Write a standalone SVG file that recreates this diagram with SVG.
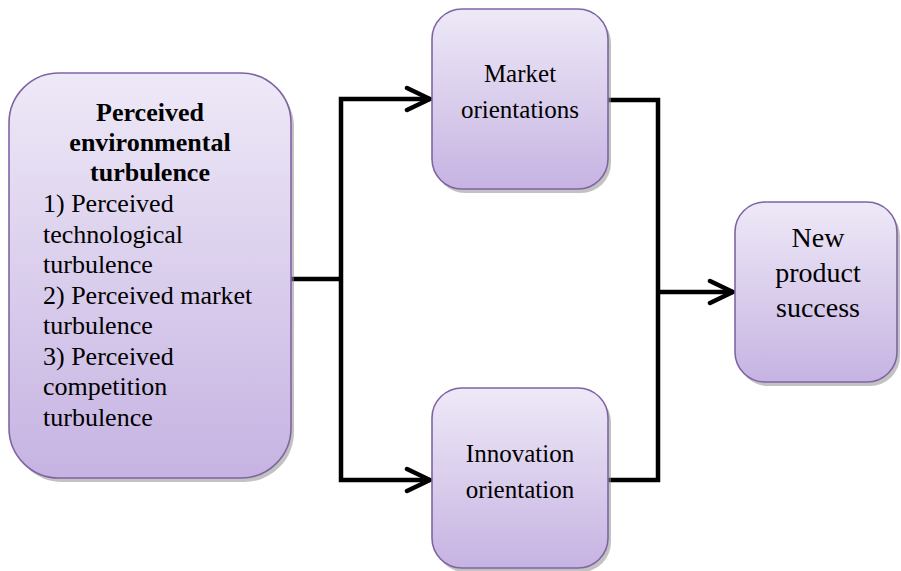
<svg xmlns="http://www.w3.org/2000/svg" width="901" height="571" viewBox="0 0 901 571">
  <defs>
    <linearGradient id="boxFill" x1="0" y1="0" x2="0" y2="1">
      <stop offset="0" stop-color="#eee9f7"/>
      <stop offset="1" stop-color="#c6b3e2"/>
    </linearGradient>
    <marker id="chevron" markerUnits="userSpaceOnUse" viewBox="-30 -15 34 30" markerWidth="34" markerHeight="30" refX="0" refY="0" orient="auto">
      <path d="M-23,-11 L0,0 L-23,11" fill="none" stroke="#000" stroke-width="4.5" stroke-linecap="round" stroke-linejoin="miter"/>
    </marker>
  </defs>
  <style>
    .shadow { fill: #8f8f8f; opacity: 0.55; }
    .box { fill: url(#boxFill); stroke: #8064a2; stroke-width: 1.6; }
    .t { font-family: "Liberation Serif", Tinos, "Times New Roman", Times, "DejaVu Serif", serif; fill: #000; }
    .wire { fill: none; stroke: #000; stroke-width: 4.5; stroke-linejoin: miter; }
  </style>
  <rect width="901" height="571" fill="#fff"/>

  <g id="connectors">
    <path class="wire" d="M291,279 H341"/>
    <path class="wire" d="M341,279 V99 H430" marker-end="url(#chevron)"/>
    <path class="wire" d="M341,279 V480 H430" marker-end="url(#chevron)"/>
    <path class="wire" d="M608,100 H658 V480 H608"/>
    <path class="wire" d="M658,292 H733" marker-end="url(#chevron)"/>
  </g>

  <g id="environmental-turbulence">
    <rect class="shadow" x="12" y="77" width="282" height="405" rx="50"/>
    <rect class="box" x="9" y="73" width="282" height="405" rx="50"/>
    <g class="t" font-size="26">
      <text x="150" y="121" text-anchor="middle" font-weight="bold">Perceived</text>
      <text x="150" y="151" text-anchor="middle" font-weight="bold">environmental</text>
      <text x="150" y="181" text-anchor="middle" font-weight="bold">turbulence</text>
      <text x="43" y="212">1) Perceived</text>
      <text x="43" y="242.5">technological</text>
      <text x="43" y="273">turbulence</text>
      <text x="43" y="303.5">2) Perceived market</text>
      <text x="43" y="334">turbulence</text>
      <text x="43" y="364.5">3) Perceived</text>
      <text x="43" y="395">competition</text>
      <text x="43" y="425.5">turbulence</text>
    </g>
  </g>

  <g id="market-orientations">
    <rect class="shadow" x="435" y="13" width="176" height="180" rx="30"/>
    <rect class="box" x="432" y="9" width="176" height="180" rx="30"/>
    <g class="t" font-size="25" text-anchor="middle">
      <text x="520" y="82">Market</text>
      <text x="520" y="118">orientations</text>
    </g>
  </g>

  <g id="innovation-orientation">
    <rect class="shadow" x="435" y="392" width="176" height="180" rx="30"/>
    <rect class="box" x="432" y="388" width="176" height="180" rx="30"/>
    <g class="t" font-size="25" text-anchor="middle">
      <text x="520" y="462">Innovation</text>
      <text x="520" y="498">orientation</text>
    </g>
  </g>

  <g id="new-product-success">
    <rect class="shadow" x="738" y="206" width="162" height="180" rx="30"/>
    <rect class="box" x="735" y="202" width="162" height="180" rx="30"/>
    <g class="t" font-size="28" text-anchor="middle">
      <text x="818" y="247">New</text>
      <text x="818" y="282">product</text>
      <text x="818" y="317">success</text>
    </g>
  </g>
</svg>
